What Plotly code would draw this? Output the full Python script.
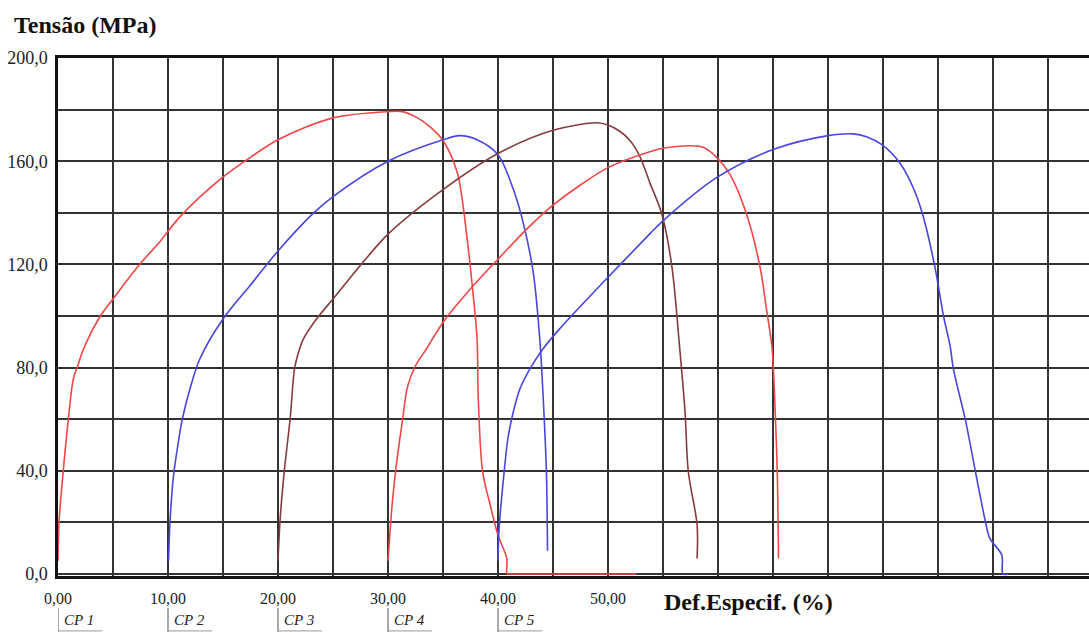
import plotly.graph_objects as go

# ---- data (strain %, stress MPa) ----
cp1_x = [0.0, 0.1, 0.48, 0.94, 1.4, 1.8, 2.3, 3.8, 5.0, 7.3, 9.3, 11.1, 14.9, 17.5, 20.0, 25.0, 30.0, 31.3,
         32.6, 33.8, 35.0, 36.3, 37.2, 37.7, 38.1, 38.2, 38.6, 39.3, 40.0, 40.8, 40.8, 40.9, 41.2, 52.6]
cp1_y = [5, 20.5, 40, 60, 75.7, 80.7, 87, 99.6, 106.6, 119.4, 129, 138.5, 153.5, 161.5, 168.3, 176.8, 179.2, 179.2,
         177, 173.4, 168, 155.5, 129.7, 110, 91, 69, 39.7, 26.6, 15, 6, 0.3, 0, 0, 0]

cp2_x = [10.05, 10.2, 10.5, 10.9, 11.3, 12.0, 12.9, 15.0, 17.5, 19.9, 23.1, 25.0, 30.0, 35.0, 36.5, 38.1,
         40.0, 41.4, 42.3, 43.2, 43.8, 44.1, 44.4, 44.5]
cp2_y = [5, 21.6, 38, 50, 60, 71.8, 83.4, 98.8, 112, 124.7, 139.4, 146.3, 160, 168.3, 169.9, 168.3,
         162.5, 149, 136, 117, 91, 69, 39.7, 9]

cp3_x = [20.0, 20.2, 20.6, 21.1, 21.5, 21.8, 22.3, 23.5, 25.0, 30.0, 35.0, 40.0, 45.0, 49.0, 50.0, 51.1,
         52.0, 52.9, 53.8, 54.9, 55.8, 56.5, 57.0, 57.3, 58.1, 58.1]
cp3_y = [5, 21.6, 41, 60, 79.5, 85, 91, 98.8, 106.6, 131.7, 149, 163, 172, 174.9, 174, 171.5,
         168, 161.8, 151.7, 139.4, 119.4, 88.4, 63, 39.7, 19, 6]

cp4_x = [30.0, 30.4, 30.8, 31.3, 31.8, 32.5, 33.5, 35.0, 37.7, 40.0, 42.5, 45.0, 50.0, 53.8, 54.9, 57.5,
         58.7, 59.9, 61.1, 62.6, 63.8, 64.5, 64.9, 65.2, 65.4, 65.5]
cp4_y = [5, 28, 43.6, 59, 73, 80.7, 87.3, 97.5, 111.5, 122, 133.2, 143, 157.5, 163.7, 164.9, 166,
         165.3, 161.4, 154.8, 139.4, 119.4, 100, 88.4, 63, 37, 6]

cp5_x = [40.0, 40.1, 40.5, 40.9, 41.4, 42.0, 42.9, 44.1, 45.6, 50.0, 53.8, 54.9, 59.9, 65.0, 70.0, 72.3,
         73.5, 74.9, 76.5, 77.7, 78.6, 79.7, 80.5, 81.1, 81.4, 82.5, 83.4, 84.3, 84.7, 85.8, 85.9, 86.4]
cp5_y = [5, 17.8, 37, 52.5, 63, 71.8, 79.5, 87.3, 95, 115, 131.8, 136.5, 153.7, 164.5, 169.9, 170.6,
         169.5, 166.4, 159.5, 150.2, 139.4, 119.4, 100, 88.4, 79.5, 59.5, 39.7, 20.5, 13.9, 7.3, 0, 0]

cp_names = ["CP 1", "CP 2", "CP 3", "CP 4", "CP 5"]
cp_offsets = [0, 10, 20, 30, 40]
cp_colors = ["rgb(240,70,70)", "rgb(70,70,225)", "rgb(135,60,60)", "rgb(240,70,70)", "rgb(70,70,225)"]

x_tickvals = list(range(0, 95, 5))
x_ticktext = ["0,00", "", "10,00", "", "20,00", "", "30,00", "", "40,00", "", "50,00"] + [""] * 8
y_tickvals = list(range(0, 220, 20))
y_ticktext = ["0,0", "", "40,0", "", "80,0", "", "120,0", "", "160,0", "", "200,0"]

xs = [cp1_x, cp2_x, cp3_x, cp4_x, cp5_x]
ys = [cp1_y, cp2_y, cp3_y, cp4_y, cp5_y]

fig = go.Figure()
for name, x, y, c in zip(cp_names, xs, ys, cp_colors):
    fig.add_trace(go.Scatter(x=x, y=y, mode="lines", name=name,
                             line=dict(color=c, width=1.6, shape="spline", smoothing=0.9),
                             showlegend=False))

serif = "Liberation Serif"

# CP labels below axis
for name, off in zip(cp_names, cp_offsets):
    fig.add_shape(type="line", xref="x", yref="paper", x0=off, x1=off, y0=-0.062, y1=-0.108,
                  line=dict(color="#555555", width=1))
    fig.add_shape(type="line", xref="x", yref="paper", x0=off, x1=off + 4.0, y0=-0.106, y1=-0.106,
                  line=dict(color="#999999", width=1))
    fig.add_annotation(text="<i>" + name + "</i>", xref="x", yref="paper", x=off + 0.4, y=-0.085,
                       xanchor="left", yanchor="middle", showarrow=False,
                       font=dict(family=serif, size=15, color="#222222"))

fig.add_annotation(text="<b>Tensão (MPa)</b>", xref="paper", yref="paper", x=-0.0446, y=1.063,
                   xanchor="left", yanchor="middle", showarrow=False,
                   font=dict(family=serif, size=24, color="#111111"))
fig.add_annotation(text="<b>Def.Especif. (%)</b>", xref="paper", yref="paper", x=0.586, y=-0.05,
                   xanchor="left", yanchor="middle", showarrow=False,
                   font=dict(family=serif, size=24, color="#111111"))

fig.update_layout(
    width=1089, height=632,
    margin=dict(l=58, r=0, t=58, b=56, autoexpand=False),
    paper_bgcolor="white", plot_bgcolor="white",
    font=dict(family=serif),
    xaxis=dict(range=[0, 1031 / 11], tickvals=x_tickvals, ticktext=x_ticktext,
               showgrid=True, gridcolor="#333333", gridwidth=1.6, zeroline=False,
               showline=True, linecolor="#111111", linewidth=2.5, mirror=True,
               ticks="", ticklabelstandoff=6, layer="below traces", automargin=False,
               tickfont=dict(family=serif, size=16, color="#222222")),
    yaxis=dict(range=[-0.8, 200], tickvals=y_tickvals, ticktext=y_ticktext,
               showgrid=True, gridcolor="#333333", gridwidth=1.6, zeroline=False,
               showline=True, linecolor="#111111", linewidth=2.5, mirror=False,
               ticks="", ticklabelstandoff=4, layer="below traces", automargin=False,
               tickfont=dict(family=serif, size=18, color="#222222")),
)

fig.write_html("out.html", config={"displayModeBar": False},
               post_script="document.body.style.margin='0';document.body.style.overflow='hidden';")
